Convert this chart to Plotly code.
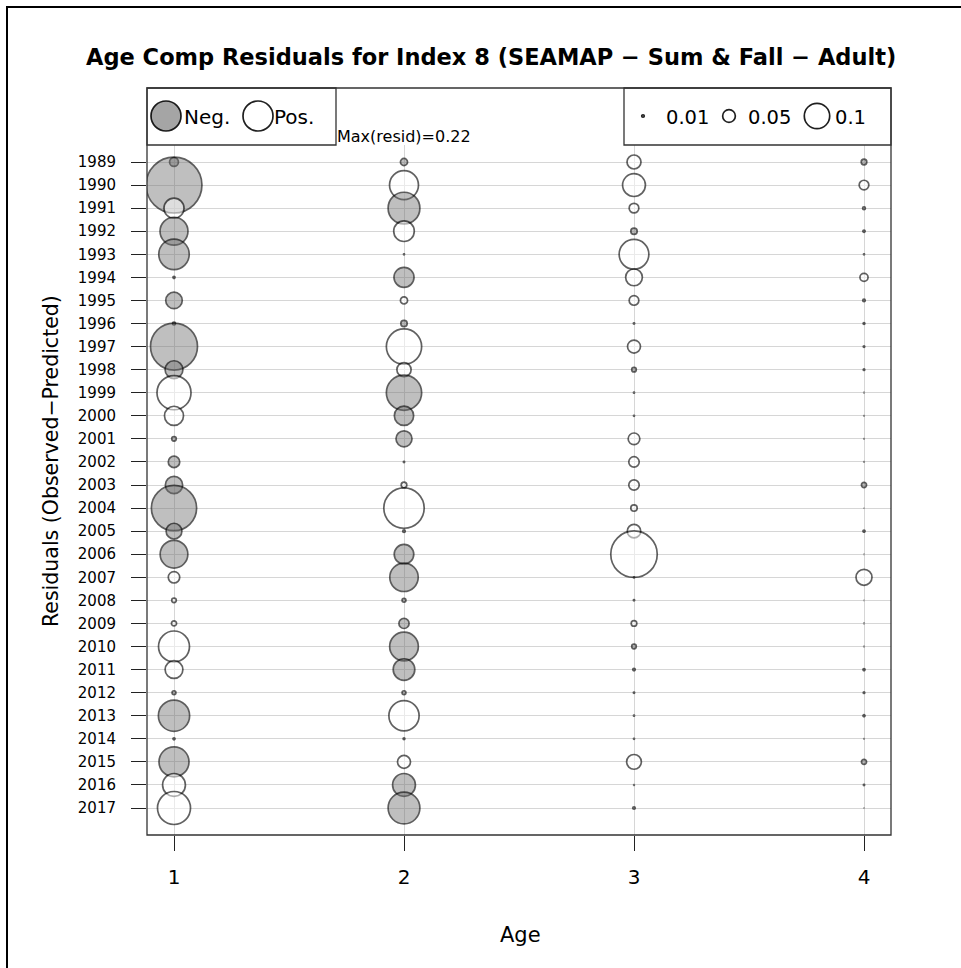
import plotly.graph_objects as go

# ---- data -------------------------------------------------------------
ages = [1, 2, 3, 4]
years = [1989, 1990, 1991, 1992, 1993, 1994, 1995, 1996, 1997, 1998,
         1999, 2000, 2001, 2002, 2003, 2004, 2005, 2006, 2007, 2008,
         2009, 2010, 2011, 2012, 2013, 2014, 2015, 2016, 2017]

# age composition residuals (observed - predicted), by age
resid_age1 = [-0.035, -0.220, 0.079, -0.110, -0.120, -0.008, -0.065, -0.012, -0.185, -0.070,
              0.134, 0.075, -0.018, -0.045, -0.068, -0.178, -0.062, -0.109, 0.045, 0.018,
              0.020, 0.122, 0.070, -0.015, -0.123, -0.008, -0.118, 0.090, 0.130]
resid_age2 = [-0.028, 0.114, -0.125, 0.081, -0.004, -0.079, 0.028, -0.025, 0.139, 0.056,
              -0.139, -0.076, -0.063, -0.005, 0.022, 0.159, -0.010, -0.077, -0.112, -0.015,
              -0.040, -0.113, -0.085, -0.015, 0.119, -0.007, 0.051, -0.090, -0.125]
resid_age3 = [0.055, 0.090, 0.038, -0.025, 0.117, 0.066, 0.038, 0.005, 0.051, -0.018,
              0.004, 0.004, 0.046, 0.041, 0.041, 0.025, 0.053, 0.183, 0.004, 0.005,
              0.022, -0.018, -0.010, 0.005, 0.004, 0.004, 0.058, 0.003, -0.010]
resid_age4 = [-0.022, 0.038, -0.011, -0.009, 0.004, 0.032, -0.010, -0.007, 0.006, 0.006,
              0.002, 0.002, 0.002, 0.002, -0.020, 0.001, -0.008, 0.001, 0.063, 0.001,
              0.002, 0.002, -0.008, 0.006, -0.008, 0.002, -0.020, 0.005, 0.001]
residuals = [resid_age1, resid_age2, resid_age3, resid_age4]

legend_sizes = [0.01, 0.05, 0.1]
legend_labels = ["0.01", "0.05", "0.1"]

# ---- styling ----------------------------------------------------------
FONT = "DejaVu Sans"
NEG_FILL = "rgba(110,110,110,0.62)"
POS_FILL = "rgba(255,255,255,0.70)"
EDGE = "rgba(0,0,0,0.88)"
FRAME = "#333333"
PX_PER_UNIT = 254          # bubble diameter in pixels per unit residual

W, H = 961, 968
L, R, T, B = 147, 891, 145, 835   # plotting rectangle in pixels
TOP = 88                           # top of the legend strip


def fx(px):
    return (px - L) / (R - L)


def fy(py):
    return (B - py) / (B - T)


# one trace, drawn age by age then year by year so later bubbles overlap earlier
xs, ys, vals, fills = [], [], [], []
for age, col in zip(ages, residuals):
    for yr, v in zip(years, col):
        xs.append(age)
        ys.append(yr)
        vals.append(abs(v))
        fills.append(NEG_FILL if v < 0 else POS_FILL)

max_resid = max(max(abs(v) for v in col) for col in residuals)

fig = go.Figure()
fig.add_trace(go.Scatter(
    x=xs, y=ys, mode="markers",
    marker=dict(size=vals, sizemode="diameter", sizeref=1 / PX_PER_UNIT, sizemin=0,
                color=fills, line=dict(color=EDGE, width=1.7)),
    hoverinfo="x+y", showlegend=False,
))

# axis extents chosen so ages and years sit inside the box with R-like padding
x_pad = 27 / 230
row_px = (808 - 162) / (len(years) - 1)
y_top = years[0] - 17 / row_px
y_bot = years[-1] + 27 / row_px

shapes = []
# outer image frame
shapes.append(dict(type="rect", xref="paper", yref="paper",
                   x0=fx(7), x1=fx(975), y0=fy(7), y1=fy(985),
                   line=dict(color="black", width=2), layer="above"))
# plot frame including legend strip
shapes.append(dict(type="rect", xref="paper", yref="paper",
                   x0=0, x1=1, y0=0, y1=fy(TOP),
                   line=dict(color=FRAME, width=1.3), layer="above"))
# left legend box
shapes.append(dict(type="rect", xref="paper", yref="paper",
                   x0=0, x1=fx(336), y0=1, y1=fy(TOP),
                   line=dict(color=FRAME, width=1.3), layer="above"))
# right legend box
shapes.append(dict(type="rect", xref="paper", yref="paper",
                   x0=fx(624), x1=1, y0=1, y1=fy(TOP),
                   line=dict(color=FRAME, width=1.3), layer="above"))


def circle(cx, cy, d, fill):
    return dict(type="circle", xref="paper", yref="paper",
                xsizemode="pixel", ysizemode="pixel",
                xanchor=fx(cx), yanchor=fy(cy),
                x0=-d / 2, x1=d / 2, y0=-d / 2, y1=d / 2,
                fillcolor=fill, line=dict(color=EDGE, width=1.7), layer="above")


def label(px, py, text, size, xanchor="left", yanchor="middle", **kw):
    return dict(x=fx(px), y=fy(py), text=text, showarrow=False,
                xref="paper", yref="paper", xanchor=xanchor, yanchor=yanchor,
                font=dict(size=size, family=FONT, color="black"), **kw)


annotations = []
# sign legend
shapes.append(circle(166, 116, 30, NEG_FILL))
shapes.append(circle(258, 116, 30, POS_FILL))
annotations.append(label(182, 117, "Neg.", 20))
annotations.append(label(272, 117, "Pos.", 20))

# size legend
leg_cx = [643, 729, 817]
leg_tx = [664, 746, 833]
for s, lab, cx, tx in zip(legend_sizes, legend_labels, leg_cx, leg_tx):
    shapes.append(circle(cx, 116, s * PX_PER_UNIT, POS_FILL))
    annotations.append(label(tx, 117, lab, 19.5))

annotations.append(label(335, 148, f"Max(resid)={max_resid:.2f}", 16, yanchor="bottom"))

# titles
annotations.append(label(491, 57,
                         "<b>Age Comp Residuals for Index 8 (SEAMAP − Sum &amp; Fall − Adult)</b>",
                         22.5, xanchor="center"))
annotations.append(label(51, 461, "Residuals (Observed−Predicted)", 20.5,
                         xanchor="center", textangle=-90))
annotations.append(label(520, 935, "Age", 21, xanchor="center"))

fig.update_layout(
    width=W, height=H,
    margin=dict(l=L, r=W - R, t=T, b=H - B, pad=0),
    paper_bgcolor="white", plot_bgcolor="white",
    shapes=shapes, annotations=annotations,
    font=dict(family=FONT, color="black"),
)
fig.update_xaxes(
    range=[ages[0] - x_pad, ages[-1] + x_pad], tickvals=ages, ticktext=[str(a) for a in ages],
    showgrid=True, gridcolor="#d6d6d6", gridwidth=1, zeroline=False, showline=False,
    ticks="outside", ticklen=15, tickwidth=1, tickcolor="#222",
    tickfont=dict(size=20, family=FONT, color="black"), ticklabelstandoff=9,
)
fig.update_yaxes(
    range=[y_bot, y_top], tickvals=years, ticktext=[str(y) for y in years],
    showgrid=True, gridcolor="#d6d6d6", gridwidth=1, zeroline=False, showline=False,
    ticks="outside", ticklen=15, tickwidth=1, tickcolor="#222",
    tickfont=dict(size=15, family=FONT, color="black"), ticklabelstandoff=12,
)

fig.write_html("out.html")
